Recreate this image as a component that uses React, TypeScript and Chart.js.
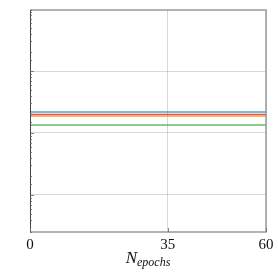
import React, { useEffect, useRef } from "react";
import { Chart, registerables } from "chart.js";

Chart.register(...registerables);

const epochs = [0, 10, 20, 30, 40, 50, 60];
const seriesBlue = [0.218, 0.218, 0.218, 0.218, 0.218, 0.218, 0.218];
const seriesRed = [0.2, 0.2, 0.2, 0.2, 0.2, 0.2, 0.2];
const seriesOrange = [0.188, 0.188, 0.188, 0.188, 0.188, 0.188, 0.188];
const seriesGreen = [0.1346, 0.1346, 0.1346, 0.1346, 0.1346, 0.1346, 0.1346];
const xTicks = [0, 35, 60];
const yMajor = [1, 0.1, 0.01];

const isMajor = (v: number) => {
  const l = Math.log10(v);
  return Math.abs(l - Math.round(l)) < 1e-6;
};

export default function App() {
  const ref = useRef<HTMLCanvasElement | null>(null);
  useEffect(() => {
    if (!ref.current) return;
    const framePlugin = {
      id: "frame",
      afterDraw(chart: any) {
        const { ctx, chartArea: a, scales } = chart;
        ctx.save();
        // frame
        ctx.strokeStyle = "#9a9a9a";
        ctx.lineWidth = 1.5;
        ctx.beginPath();
        ctx.moveTo(a.left, a.top);
        ctx.lineTo(a.right, a.top);
        ctx.lineTo(a.right, a.bottom);
        ctx.lineTo(a.left, a.bottom);
        ctx.stroke();
        ctx.strokeStyle = "#444";
        ctx.lineWidth = 1;
        ctx.beginPath();
        ctx.moveTo(a.left + 0.5, a.top);
        ctx.lineTo(a.left + 0.5, a.bottom);
        ctx.stroke();
        // y minor/major ticks inside
        const y = scales.y;
        ctx.strokeStyle = "#666";
        ctx.lineWidth = 0.8;
        y.ticks.forEach((t: any) => {
          const py = y.getPixelForValue(t.value);
          if (py < a.top - 0.5 || py > a.bottom + 0.5) return;
          const len = isMajor(t.value) ? 4 : 2;
          ctx.beginPath();
          ctx.moveTo(a.left, Math.round(py) + 0.5);
          ctx.lineTo(a.left + len, Math.round(py) + 0.5);
          ctx.stroke();
        });
        // x ticks
        const x = scales.x;
        xTicks.forEach((v) => {
          const px = x.getPixelForValue(v);
          ctx.beginPath();
          ctx.moveTo(Math.round(px) + 0.5, a.bottom);
          ctx.lineTo(Math.round(px) + 0.5, a.bottom - 4);
          ctx.stroke();
        });
        // x title
        ctx.fillStyle = "#111";
        ctx.textBaseline = "alphabetic";
        const cx = (a.left + a.right) / 2;
        ctx.font = "italic 17px 'Liberation Serif'";
        const wN = ctx.measureText("N").width;
        ctx.font = "italic 12px 'Liberation Serif'";
        const wS = ctx.measureText("epochs").width;
        const start = cx - (wN + wS) / 2;
        ctx.font = "italic 17px 'Liberation Serif'";
        ctx.fillText("N", start, 263);
        ctx.font = "italic 12px 'Liberation Serif'";
        ctx.fillText("epochs", start + wN, 266);
        ctx.restore();
      },
    };
    const mk = (label: string, data: number[], color: string, w: number) => ({
      label,
      data: epochs.map((e, i) => ({ x: e, y: data[i] })),
      borderColor: color,
      borderWidth: w,
      pointRadius: 0,
      fill: false,
      tension: 0,
    });
    const chart = new Chart(ref.current, {
      type: "line",
      data: {
        datasets: [
          mk("blue", seriesBlue, "rgba(31,119,180,0.55)", 2),
          mk("orange", seriesOrange, "rgba(255,127,14,0.6)", 2),
          mk("red", seriesRed, "rgba(214,39,40,0.8)", 1.2),
          mk("green", seriesGreen, "rgba(44,160,44,0.55)", 1.8),
        ],
      },
      options: {
        animation: false,
        responsive: false,
        maintainAspectRatio: false,
        layout: { padding: { left: 30, right: 12, top: 10, bottom: 0 } },
        plugins: { legend: { display: false }, tooltip: { enabled: false } },
        scales: {
          x: {
            type: "linear",
            min: 0,
            max: 60,
            afterBuildTicks: (s: any) => {
              s.ticks = xTicks.map((v) => ({ value: v }));
            },
            afterFit: (s: any) => {
              s.height = 41;
            },
            border: { display: false },
            grid: {
              color: "rgba(0,0,0,0.15)",
              lineWidth: 1,
              drawTicks: false,
            },
            ticks: {
              color: "#111",
              padding: 4,
              maxRotation: 0,
              autoSkip: false,
              font: { family: "'Liberation Serif'", size: 15 },
              callback: (v: any) => String(v),
            },
          },
          y: {
            type: "logarithmic",
            min: Math.pow(10, -2.597),
            max: Math.pow(10, 0.984),
            afterFit: (s: any) => {
              s.width = 0;
            },
            border: { display: false },
            grid: {
              drawTicks: false,
              color: (c: any) =>
                c.tick && yMajor.some((m) => Math.abs(m - c.tick.value) / m < 1e-6)
                  ? "rgba(0,0,0,0.15)"
                  : "rgba(0,0,0,0)",
            },
            ticks: { display: false, autoSkip: false },
          },
        },
      },
      plugins: [framePlugin],
    } as any);
    return () => chart.destroy();
  }, []);
  return (
    <div style={{ position: "absolute", left: 0, top: 0, width: 278, height: 273 }}>
      <canvas ref={ref} width={278} height={273} style={{ display: "block" }} />
    </div>
  );
}
